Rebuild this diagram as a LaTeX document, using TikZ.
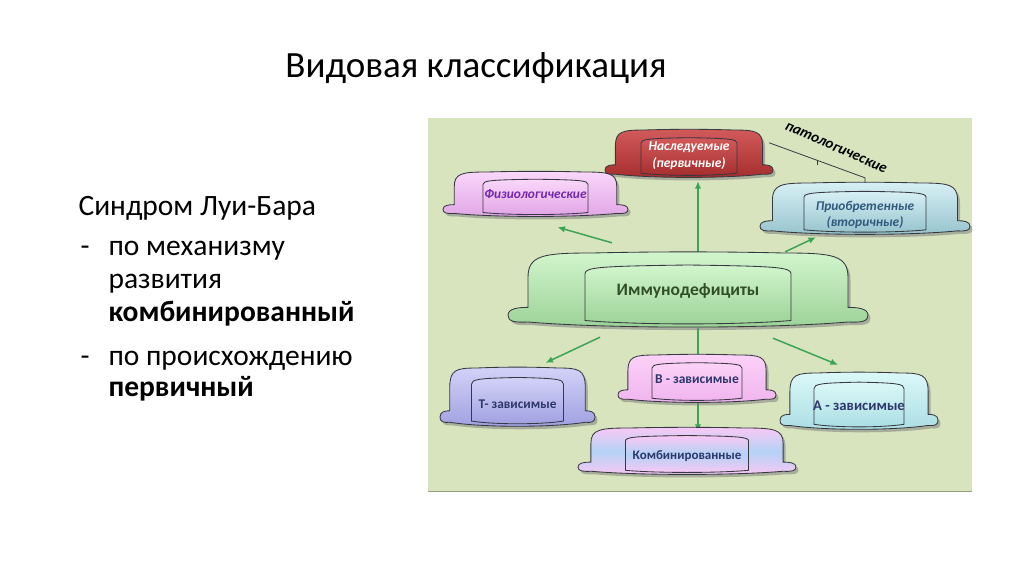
\documentclass[tikz,border=0pt]{standalone}
\usepackage{fontspec}
\setmainfont{Carlito}
\usetikzlibrary{positioning, shadows, arrows.meta, backgrounds, calc}

\definecolor{panelgreen}{RGB}{216,228,190}
\definecolor{panelline}{RGB}{150,160,130}
\definecolor{arrowgreen}{RGB}{60,165,85}
\definecolor{outlinegray}{RGB}{55,57,65}
\definecolor{naslA}{RGB}{210,90,90}
\definecolor{naslB}{RGB}{165,45,45}
\definecolor{fizA}{RGB}{250,215,250}
\definecolor{fizB}{RGB}{225,165,230}
\definecolor{fizT}{RGB}{115,40,170}
\definecolor{priobA}{RGB}{215,240,245}
\definecolor{priobB}{RGB}{150,195,205}
\definecolor{priobT}{RGB}{50,90,125}
\definecolor{immA}{RGB}{210,245,205}
\definecolor{immB}{RGB}{155,210,150}
\definecolor{immT}{RGB}{50,78,40}
\definecolor{tdepA}{RGB}{210,210,248}
\definecolor{tdepB}{RGB}{160,160,225}
\definecolor{bdepA}{RGB}{252,210,248}
\definecolor{bdepB}{RGB}{240,180,238}
\definecolor{adepA}{RGB}{220,248,248}
\definecolor{adepB}{RGB}{170,222,228}
\definecolor{kombA}{RGB}{250,200,245}
\definecolor{kombM}{RGB}{180,210,245}
\definecolor{depT}{RGB}{45,55,105}

% banner: name, centre, half width, half height, inner half width, text
\newcommand\banner[6]{%
  \begin{scope}[shift={(#2)}]
    \pgfmathsetmacro\bw{#3}\pgfmathsetmacro\bh{#4}
    \pgfmathsetmacro\bf{0.1*#3+2}\pgfmathsetmacro\bs{#3-\bf}
    \pgfmathsetmacro\biw{#5}
    \path[outline, #1box, drop shadow={opacity=0.55, shadow xshift=2.5pt, shadow yshift=-3pt}]
      ({-\bs},{-0.35*\bh}) .. controls ({-\bs},{-0.95*\bh}) and ({-0.9*\bs},{-\bh}) .. ({-0.6*\bs},{-\bh})
      .. controls ({-0.2*\bs},{-1.04*\bh}) and ({0.2*\bs},{-1.04*\bh}) .. ({0.6*\bs},{-\bh})
      .. controls ({0.9*\bs},{-\bh}) and ({\bs},{-0.95*\bh}) .. ({\bs},{-0.35*\bh})
      -- ({\bs},{0.45*\bh})
      .. controls ({\bs+0.5*\bf},{0.45*\bh}) and ({\bw},{0.48*\bh}) .. ({\bw},{0.66*\bh})
      .. controls ({\bw},{0.82*\bh}) and ({\bw-0.3*\bf},{0.86*\bh}) .. ({\bs},{0.84*\bh})
      .. controls ({0.5*\bs},{1.02*\bh}) and ({-0.5*\bs},{1.02*\bh}) .. ({-\bs},{0.84*\bh})
      .. controls ({-\bw+0.3*\bf},{0.86*\bh}) and ({-\bw},{0.82*\bh}) .. ({-\bw},{0.66*\bh})
      .. controls ({-\bw},{0.48*\bh}) and ({-\bs-0.5*\bf},{0.45*\bh}) .. ({-\bs},{0.45*\bh})
      -- cycle;
    \path[outline, #1box]
      ({-\biw},{0.8*\bh}) -- ({-\biw},{-0.45*\bh})
      .. controls ({-\biw},{-0.62*\bh}) and ({-0.85*\biw},{-0.65*\bh}) .. (0,{-0.68*\bh})
      .. controls ({0.85*\biw},{-0.65*\bh}) and ({\biw},{-0.62*\bh}) .. ({\biw},{-0.45*\bh})
      -- ({\biw},{0.8*\bh})
      .. controls ({0.5*\biw},{0.92*\bh}) and ({-0.5*\biw},{0.92*\bh}) .. ({-\biw},{0.8*\bh})
      -- cycle;
  \end{scope}
  \node[minimum width=2*#3, minimum height=2*#4, inner sep=0pt,
        label={[#1txt]center:{#6}}] (#1) at (#2) {};
}

\tikzset{
  outline/.style={draw=outlinegray, line width=0.85pt},
  arr/.style={draw=arrowgreen, line width=1.5pt, -{Latex[length=7.5pt,width=6.5pt]}},
  lefttxt/.style={anchor=base west, font=\fontsize{29.5}{35}\selectfont},
  boxtxt/.style={text=#1, font=\fontsize{13.3}{16}\selectfont\bfseries, align=center},
  % fills and texts of the banners
  naslbox/.style={top color=naslA, bottom color=naslB},
  nasltxt/.style={boxtxt=white, font=\fontsize{13.5}{17}\selectfont\bfseries\itshape, yshift=-2pt},
  fizbox/.style={top color=fizA, bottom color=fizB},
  fiztxt/.style={boxtxt=fizT, font=\fontsize{13.4}{16}\selectfont\bfseries\itshape},
  priobbox/.style={top color=priobA, bottom color=priobB},
  priobtxt/.style={boxtxt=priobT, font=\fontsize{13.4}{15.5}\selectfont\bfseries\itshape, yshift=-6pt},
  immbox/.style={top color=immA, bottom color=immB},
  immtxt/.style={boxtxt=immT, font=\fontsize{17.5}{21}\selectfont\bfseries},
  tdepbox/.style={top color=tdepA, bottom color=tdepB},
  tdeptxt/.style={boxtxt=depT, yshift=-7pt},
  bdepbox/.style={top color=bdepA, bottom color=bdepB},
  bdeptxt/.style={boxtxt=depT, font=\fontsize{13.5}{17}\selectfont\bfseries},
  adepbox/.style={top color=adepA, bottom color=adepB},
  adeptxt/.style={boxtxt=depT, font=\fontsize{14.7}{18}\selectfont\bfseries, yshift=-4pt},
  kombbox/.style={top color=kombA, bottom color=kombA, middle color=kombM},
  kombtxt/.style={boxtxt=depT, font=\fontsize{13}{16}\selectfont\bfseries, yshift=-5pt},
}

\begin{document}
\begin{tikzpicture}[x=1pt, y=-1pt]
  \useasboundingbox (0,0) rectangle (1024,574);

  \node[font=\fontsize{37}{44}\selectfont] (title) at (476,68) {Видовая классификация};

  \node[lefttxt] (synd) at (75,215) {Синдром Луи-Бара};
  \node[lefttxt] (dash1) at (77,255) {-};
  \node[lefttxt] (mech) at (105,255) {по механизму};
  \node[lefttxt] (mech2) at (105,288) {развития};
  \node[lefttxt] (mech3) at (105,321) {\textbf{комбинированный}};
  \node[lefttxt] (dash2) at (77,365) {-};
  \node[lefttxt] (orig) at (105,365) {по происхождению};
  \node[lefttxt] (orig2) at (105,396) {\textbf{первичный}};

  \banner{nasl}{689,154}{84}{24}{48}{Наследуемые\\(первичные)}
  \banner{fiz}{535.5,194.5}{92.5}{22.5}{52.5}{Физиологические}
  \banner{priob}{865,209}{105}{26}{61}{Приобретенные\\(вторичные)}
  \banner{imm}{688,290.5}{180}{37.5}{103}{Иммунодефициты}
  \banner{tdep}{517.5,397.5}{77.5}{29.5}{46}{Т- зависимые}
  \banner{bdep}{697,379}{79}{24}{45}{В - зависимые}
  \banner{adep}{859,401.5}{79}{28.5}{45}{А - зависимые}
  \banner{komb}{687,451.5}{109}{23.5}{61.5}{Комбинированные}

  \node[font=\fontsize{15}{18}\selectfont\bfseries\itshape, rotate=-23.5] (patol) at (836,148) {патологические};

  \begin{scope}[on background layer]
    \fill[white] (0,0) rectangle (1024,574);
    \fill[panelgreen] (428,118) rectangle (972,491);
    \draw[panelline, line width=1pt] (428,491) -- (972,491);
    % arrows from the centre banner
    \draw[arr] ([xshift=-76pt,yshift=10pt]imm.north) -- ([xshift=22pt,yshift=-10pt]fiz.south);
    \draw[arr, shorten >=3pt] ([xshift=10pt]imm.north) -- ([xshift=10pt]imm.north |- nasl.south);
    \draw[arr] ([xshift=-83pt,yshift=1pt]imm.north east) -- ([xshift=-49pt,yshift=-2pt]priob.south);
    \draw[arr] ([xshift=-88pt,yshift=-9pt]imm.south) -- ([xshift=28pt,yshift=5pt]tdep.north);
    \draw[arr] ([xshift=10pt]imm.south) -- ([xshift=1pt,yshift=-8pt]bdep.north);
    \draw[arr] ([xshift=85pt,yshift=-10pt]imm.south) -- ([xshift=-21pt,yshift=8pt]adep.north);
    \draw[arr] ([xshift=1pt]bdep.south) -- ([xshift=1pt,yshift=-4pt]bdep.south |- komb.north);
  \end{scope}

  % bracket for the pathological group
  \draw[outlinegray, line width=0.8pt] ([xshift=-4pt,yshift=-13pt]nasl.north east)
    -- coordinate[pos=0.5] (pm) ([yshift=5pt]priob.north) -- (priob.north);
  \draw[outlinegray, line width=0.8pt] (pm) -- ++(0,5);
\end{tikzpicture}
\end{document}
